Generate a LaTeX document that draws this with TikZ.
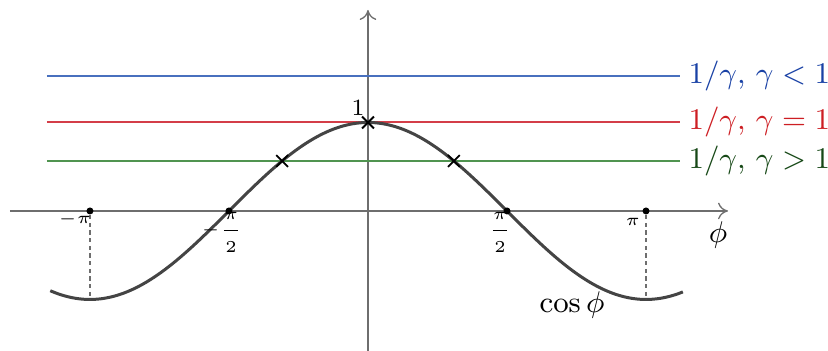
\documentclass[tikz,border=0pt]{standalone}
\usetikzlibrary{arrows.meta,shapes.misc}
\usepackage{amsmath}
\definecolor{lblue}{RGB}{72,112,190}
\definecolor{tblue}{RGB}{25,65,165}
\definecolor{lred}{RGB}{212,62,72}
\definecolor{tred}{RGB}{205,30,35}
\definecolor{lgreen}{RGB}{80,148,80}
\definecolor{tgreen}{RGB}{22,72,22}
\definecolor{curvegray}{RGB}{68,68,68}
\definecolor{axisgray}{RGB}{110,110,110}
\begin{document}
\begin{tikzpicture}[x=26.55pt,y=26.55pt,
  axis/.style={draw=axisgray,line width=0.4pt,-{To[length=3pt,width=5pt]}},
  level/.style={line width=0.6pt},
  curve/.style={draw=curvegray,line width=0.9pt},
  guide/.style={draw=axisgray,line width=0.35pt,dash pattern=on 1.3pt off 1pt},
  dotmark/.style={circle,fill=black,inner sep=0pt,minimum size=2.1pt},
  crossmark/.style={cross out,draw=black,line width=0.55pt,inner sep=0pt,minimum size=3pt},
  tick/.style={font=\tiny,inner sep=0pt},
  big/.style={font=\fontsize{9.2}{11}\selectfont,inner sep=0pt}]
\useasboundingbox (-4.158,-1.582) rectangle (5.198,2.384);
% axes
\coordinate (xl) at (-4.045,0);
\coordinate (xr) at (4.068,0);
\coordinate (yb) at (0,-1.59);
\coordinate (yt) at (0,2.271);
\draw[axis] (xl) -- (xr);
\draw[axis] (yb) -- (yt);
% level lines
\coordinate (bl) at (-3.627,1.525); \coordinate (br) at (3.525,1.525);
\coordinate (rl) at (-3.627,1);     \coordinate (rr) at (3.525,1);
\coordinate (gl) at (-3.627,0.565); \coordinate (gr) at (3.525,0.565);
\draw[level,lblue] (bl) -- (br);
\draw[level,lred] (rl) -- (rr);
\draw[level,lgreen] (gl) -- (gr);
% cosine
\draw[curve] plot[domain=-3.59:3.56,samples=150,smooth] (\x,{cos(\x r)});
% guides
\coordinate (mpb) at (-pi,-1); \coordinate (ppb) at (pi,-1);
\node[dotmark] (mp) at (-pi,0) {};
\node[dotmark] (pp) at (pi,0) {};
\node[dotmark] (mh) at (-pi/2,0) {};
\node[dotmark] (ph) at (pi/2,0) {};
\draw[guide] (mp) -- (mpb);
\draw[guide] (pp) -- (ppb);
% crossings
\node[crossmark] (c0) at (0,1) {};
\node[crossmark] (c1) at (-0.970,0.565) {};
\node[crossmark] (c2) at (0.970,0.565) {};
% tick labels
\node[tick] (lmp) at (-3.311,-0.095) {$-\pi$};
\node[tick] (lpp) at (2.994,-0.12) {$\pi$};
\node[tick] (lmh) at (-1.65,-0.24) {$-\dfrac{\pi}{2}$};
\node[tick] (lph) at (1.492,-0.24) {$\dfrac{\pi}{2}$};
\node[tick,font=\scriptsize] (lone) at (-0.113,1.164) {$1$};
% big labels
\node[big] (lphi) at (3.955,-0.275) {$\phi$};
\node[big] (lcos) at (2.305,-1.062) {$\cos\phi$};
\node[big,anchor=west,text=tblue] (lb) at (3.616,1.525) {$1/\gamma,\,\gamma<1$};
\node[big,anchor=west,text=tred] (lr) at (3.616,1) {$1/\gamma,\,\gamma=1$};
\node[big,anchor=west,text=tgreen] (lg) at (3.616,0.565) {$1/\gamma,\,\gamma>1$};
\end{tikzpicture}
\end{document}
